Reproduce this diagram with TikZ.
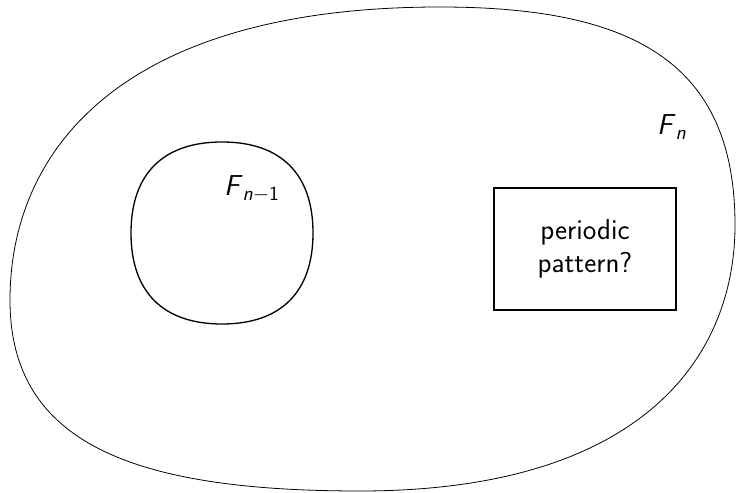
\documentclass[tikz,border=0pt]{standalone}
\usepackage{tikz}
\usetikzlibrary{positioning}
\tikzset{
  blob/.style={draw,line width=0.6pt},
  querybox/.style={draw,line width=0.6pt,minimum width=3.64cm,minimum height=2.44cm,align=center,font=\sffamily\fontsize{16.4}{18.5}\selectfont},
  setlabel/.style={font=\sffamily\fontsize{16.4}{18.5}\selectfont}
}
\newcommand{\setname}[1]{\textit{F}\textsubscript{\textit{#1}}}
\begin{document}
\begin{tikzpicture}
\useasboundingbox (0,0) rectangle (14.72,9.84);
% outer set
\coordinate (outL) at (0.2,3.84);
\coordinate (outT) at (8.8,9.7);
\coordinate (outR) at (14.7,5.34);
\coordinate (outB) at (7.2,0.02);
\draw[blob,line width=0.45pt] (outL) .. controls (0.2,6.78) and (2.35,9.7) .. (outT)
  .. controls (12.635,9.7) and (14.7,8.61) .. (outR)
  .. controls (14.7,2.68) and (12.82,0.02) .. (outB)
  .. controls (2.65,0.02) and (0.2,0.98) .. (outL);
% inner set
\coordinate (inE) at (6.26,5.18);
\coordinate (inN) at (4.44,7.0);
\coordinate (inW) at (2.62,5.18);
\coordinate (inS) at (4.44,3.36);
\draw[blob,line width=0.75pt] (inE) .. controls (6.26,6.36) and (5.62,7.0) .. (inN)
  .. controls (3.26,7.0) and (2.62,6.36) .. (inW)
  .. controls (2.62,4.0) and (3.26,3.36) .. (inS)
  .. controls (5.62,3.36) and (6.26,4.0) .. (inE);
\node[querybox] (pattern) at (11.7,4.86) {periodic\\pattern?};
\node[setlabel] (Fn) at (13.44,7.3) {\setname{n}};
\node[setlabel] (Fprev) at (5.04,6.06) {\textit{F}\textsubscript{\textit{n}$-$1}};
\end{tikzpicture}
\end{document}
